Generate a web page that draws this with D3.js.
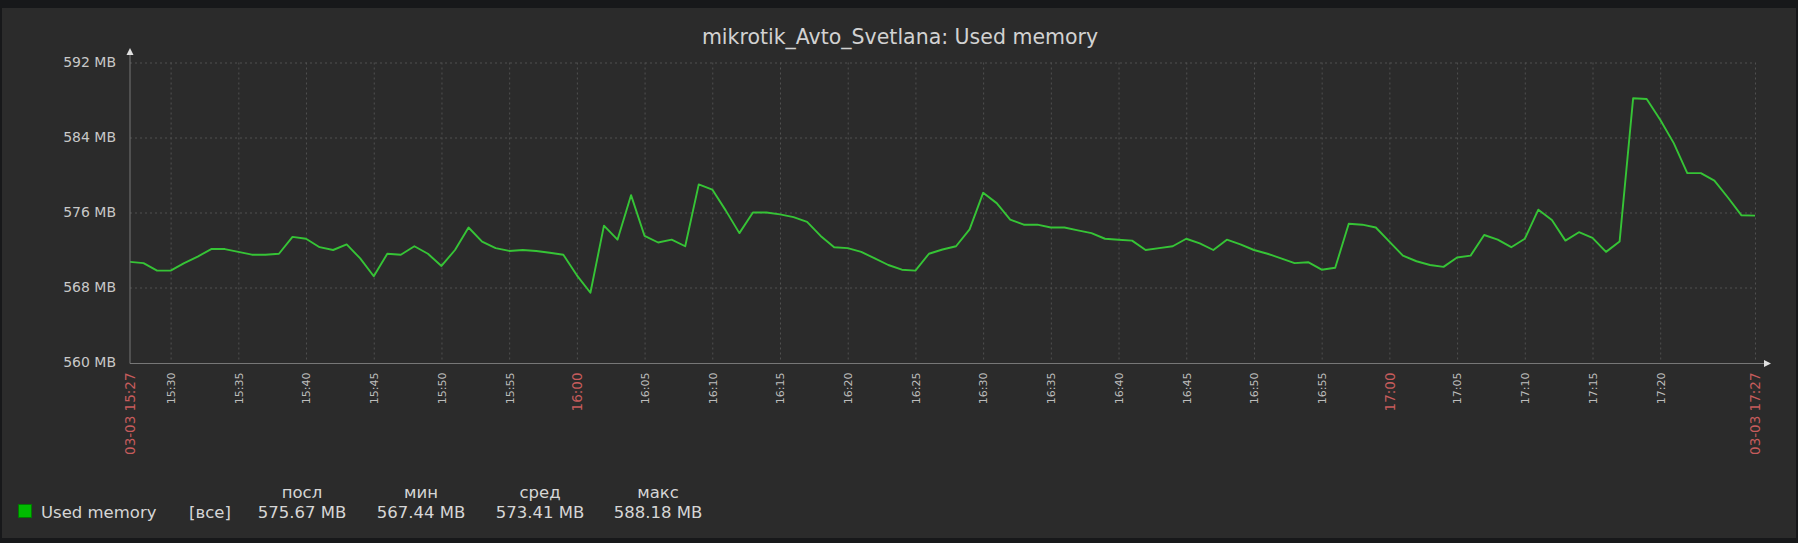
<!DOCTYPE html>
<html><head><meta charset="utf-8">
<script src="https://cdn.jsdelivr.net/npm/d3@7"></script>
<style>
html,body{margin:0;padding:0;background:#17181a;}
svg{display:block;}
</style></head><body>
<svg id="c" width="1798" height="543"></svg>
<script>
const chartTitle = "mikrotik_Avto_Svetlana: Used memory";
const chartDate = "2024-03-03";
const times = [
 "15:27","15:28","15:29","15:30","15:31","15:32","15:33","15:34","15:35","15:36","15:37","15:38","15:39","15:40","15:41","15:42","15:43","15:44","15:45","15:46","15:47","15:48","15:49","15:50","15:51","15:52","15:53","15:54","15:55","15:56","15:57","15:58","15:59",
 "16:00","16:01","16:02","16:03","16:04","16:05","16:06","16:07","16:08","16:09","16:10","16:11","16:12","16:13","16:14","16:15","16:16","16:17","16:18","16:19","16:20","16:21","16:22","16:23","16:24","16:25","16:26","16:27","16:28","16:29",
 "16:30","16:31","16:32","16:33","16:34","16:35","16:36","16:37","16:38","16:39","16:40","16:41","16:42","16:43","16:44","16:45","16:46","16:47","16:48","16:49","16:50","16:51","16:52","16:53","16:54","16:55","16:56","16:57","16:58","16:59",
 "17:00","17:01","17:02","17:03","17:04","17:05","17:06","17:07","17:08","17:09","17:10","17:11","17:12","17:13","17:14","17:15","17:16","17:17","17:18","17:19","17:20","17:21","17:22","17:23","17:24","17:25","17:26","17:27"
];
const values = [
 570.73,570.6,569.8,569.8,570.6,571.3,572.1,572.1,571.8,571.5,571.5,571.6,573.4,573.2,572.3,572.0,572.6,571.1,569.2,571.6,571.5,572.4,571.6,570.3,572.0,574.4,572.9,572.2,571.9,572.0,571.9,571.7,571.5,
 569.3,567.44,574.6,573.1,577.85,573.5,572.8,573.1,572.4,579.0,578.45,576.2,573.8,576.0,576.0,575.8,575.5,575.0,573.5,572.3,572.2,571.8,571.1,570.4,569.9,569.8,571.6,572.05,572.4,574.2,
 578.1,577.0,575.25,574.7,574.7,574.4,574.4,574.1,573.8,573.2,573.1,573.0,572.0,572.2,572.4,573.2,572.7,572.0,573.1,572.6,572.0,571.6,571.1,570.6,570.7,569.9,570.1,574.8,574.7,574.4,
 572.9,571.4,570.8,570.4,570.2,571.2,571.4,573.6,573.1,572.3,573.2,576.3,575.2,573.0,573.9,573.3,571.8,572.9,588.18,588.1,585.9,583.4,580.2,580.2,579.4,577.6,575.7,575.67
];
const yTickValues = [560, 568, 576, 584, 592];
const yUnit = "MB";
const xTickLabels = ["15:30","15:35","15:40","15:45","15:50","15:55","16:00","16:05","16:10","16:15","16:20","16:25","16:30","16:35","16:40","16:45","16:50","16:55","17:00","17:05","17:10","17:15","17:20"];
const xStartLabel = "03-03 15:27";
const xEndLabel = "03-03 17:27";
const legendName = "Used memory";
const legendScope = "[все]";
const legendHeaders = ["посл", "мин", "сред", "макс"];
const legendValues = ["575.67 MB", "567.44 MB", "573.41 MB", "588.18 MB"];

const W = 1798, H = 543;
const L = 130, R = 1755, T = 62.5, B = 362.5;
const parse = d3.timeParse("%Y-%m-%d %H:%M");
const data = times.map((t, i) => ({ t: parse(chartDate + " " + t), v: values[i] }));
const tStart = data[0].t, tEnd = data[data.length - 1].t;
const tickTimes = xTickLabels.map(s => parse(chartDate + " " + s));

const x = d3.scaleTime().domain([tStart, tEnd]).range([L, R]);
const y = d3.scaleLinear().domain([560, 592]).range([B, T]);

const svg = d3.select("#c");
const FONT = "'DejaVu Sans', sans-serif";

svg.append("rect").attr("x", 2).attr("y", 8).attr("width", W - 4).attr("height", 530).attr("fill", "#2b2b2b");

svg.append("text").attr("x", 900).attr("y", 44).attr("text-anchor", "middle")
  .attr("font-family", FONT).attr("font-size", 20.5).attr("fill", "#d2d2d2").text(chartTitle);

// grid
const gy = svg.append("g").attr("transform", `translate(${L},0)`)
  .call(d3.axisLeft(y).tickValues(yTickValues.filter(v => v > 560)).tickSize(-(R - L)).tickFormat(""));
gy.select(".domain").remove();
gy.selectAll("line").attr("stroke", "#505050").attr("stroke-dasharray", "2,3");

const gx = svg.append("g").attr("transform", `translate(0,${T})`)
  .call(d3.axisTop(x).tickValues(tickTimes.concat([tEnd])).tickSize(-(B - T)).tickFormat(""));
gx.select(".domain").remove();
gx.selectAll("line").attr("stroke", "#505050").attr("stroke-dasharray", "2,3");

// line
svg.append("path").datum(data)
  .attr("d", d3.line().x(d => x(d.t)).y(d => y(d.v)))
  .attr("fill", "none").attr("stroke", "#36c436").attr("stroke-width", 1.9)
  .attr("stroke-linejoin", "round");

// y axis
const ya = svg.append("g").attr("transform", `translate(${L},0)`)
  .call(d3.axisLeft(y).tickValues(yTickValues).tickSize(0).tickPadding(14).tickFormat(d => d + " " + yUnit));
ya.select(".domain").remove();
ya.selectAll("text").attr("font-family", FONT).attr("font-size", 14).attr("fill", "#c8c8c8");

// x axis
const redSet = new Set([+tStart, +tEnd]);
const xa = svg.append("g").attr("transform", `translate(0,${B})`)
  .call(d3.axisBottom(x).tickValues([tStart].concat(tickTimes, [tEnd])).tickSize(0)
    .tickFormat(d => redSet.has(+d) ? (+d === +tStart ? xStartLabel : xEndLabel) : d3.timeFormat("%H:%M")(d)));
xa.select(".domain").remove();
xa.selectAll("text")
  .attr("font-family", FONT)
  .attr("text-anchor", "end")
  .attr("transform", "rotate(-90)")
  .attr("x", -10).attr("y", 0).attr("dy", "0.35em")
  .each(function(d) {
    const red = redSet.has(+d) || d.getMinutes() === 0;
    d3.select(this).attr("fill", red ? "#c65c5c" : "#bdbdbd").attr("font-size", red ? 13.5 : 11);
  });

// axis lines with arrows
svg.append("line").attr("x1", L).attr("x2", L).attr("y1", B + 1).attr("y2", 52).attr("stroke", "#777").attr("stroke-width", 1);
svg.append("line").attr("x1", L).attr("x2", 1765).attr("y1", B + 1).attr("y2", B + 1).attr("stroke", "#777").attr("stroke-width", 1);
svg.append("path").attr("d", `M${L - 3.5},55 L${L},48 L${L + 3.5},55 Z`).attr("fill", "#e0e0e0");
svg.append("path").attr("d", `M1764,${B - 2.5} L1771,${B + 1} L1764,${B + 4.5} Z`).attr("fill", "#e0e0e0");

// legend
const lg = svg.append("g").attr("font-family", FONT).attr("font-size", 16.5).attr("fill", "#d6d6d6");
lg.append("rect").attr("x", 18.5).attr("y", 504.5).attr("width", 13).attr("height", 13)
  .attr("fill", "#00bb00").attr("stroke", "#007a00").attr("stroke-width", 1);
lg.append("text").attr("x", 41).attr("y", 518).text(legendName);
lg.append("text").attr("x", 189).attr("y", 518).text(legendScope);
const colX = [302, 421, 540, 658];
legendHeaders.forEach((h, i) => {
  lg.append("text").attr("x", colX[i]).attr("y", 498).attr("text-anchor", "middle").text(h);
  lg.append("text").attr("x", colX[i]).attr("y", 518).attr("text-anchor", "middle").text(legendValues[i]);
});
</script>
</body></html>
